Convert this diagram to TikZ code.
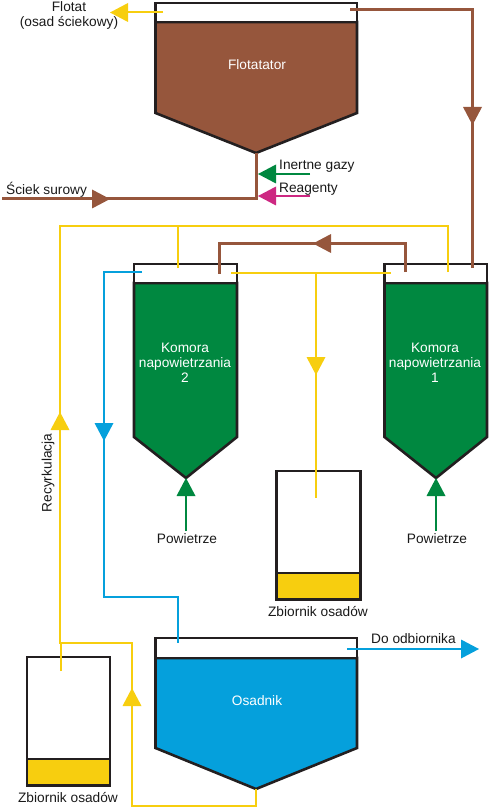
\documentclass[tikz,border=0pt]{standalone}
\usepackage{fontspec}
\setmainfont{Liberation Sans}
\usetikzlibrary{arrows.meta,positioning}
\definecolor{flotbrown}{RGB}{150,86,60}
\definecolor{aergreen}{RGB}{0,136,64}
\definecolor{setblue}{RGB}{5,160,220}
\definecolor{sludge}{RGB}{247,206,15}
\definecolor{reagpink}{RGB}{205,40,130}
\definecolor{tankline}{RGB}{35,31,32}
\begin{document}
\begin{tikzpicture}[
  x=1pt,y=-1pt,
  font=\fontsize{13.7pt}{15.2pt}\selectfont,
  tank/.style={draw=tankline,line width=2.6pt,line join=miter},
  top/.style={tank,fill=white,inner sep=0pt,minimum width=#1},
  lab/.style={inner sep=0pt,align=center,text=black!90},
  inlab/.style={inner sep=0pt,align=center,text=white},
  brownpipe/.style={line width=3pt,draw=flotbrown},
  yellowpipe/.style={line width=2pt,draw=sludge},
  bluepipe/.style={line width=2pt,draw=setblue},
  greenpipe/.style={line width=2pt,draw=aergreen},
  pinkpipe/.style={line width=2pt,draw=reagpink},
  flowtip/.style={-{Triangle[length=18pt,width=19pt,line width=0pt]}},
]
\useasboundingbox (0,0) rectangle (488,810);
% tanks
\filldraw[tank,fill=flotbrown] (155.5,22) -- (357,22) -- (357,113) -- (256,153) -- (155.5,113) -- cycle;
\node[top=201.5pt,minimum height=19pt] (flotTop) at (256.25,12.5) {};
\filldraw[tank,fill=aergreen] (134,283) -- (237,283) -- (237,437) -- (186,478) -- (134,437) -- cycle;
\node[top=103pt,minimum height=19pt] (kom2Top) at (185.5,273.5) {};
\filldraw[tank,fill=aergreen] (384.5,283) -- (487,283) -- (487,437) -- (436,478) -- (384.5,437) -- cycle;
\node[top=102.5pt,minimum height=19pt] (kom1Top) at (435.75,273.5) {};
\filldraw[tank,fill=setblue] (155.5,658) -- (357,658) -- (357,748) -- (256,789) -- (155.5,748) -- cycle;
\node[top=201.5pt,minimum height=20pt] (osTop) at (256.25,648) {};
\filldraw[tank,fill=sludge] (276.5,573) rectangle (360.5,599.5);
\node[top=84pt,minimum height=102pt] (zb1) at (318.5,522) {};
\filldraw[tank,fill=sludge] (27,759) rectangle (110,785.5);
\node[top=83pt,minimum height=102pt] (zb2) at (68.5,708) {};
% names in tanks
\node[inlab] (flotName) at (257,65) {Flotatator};
\node[inlab] (kom2Name) at (185,363) {Komora\\napowietrzania\\2};
\node[inlab] (kom1Name) at (435,363) {Komora\\napowietrzania\\1};
\node[inlab] (osName) at (257,701) {Osadnik};
% free ends of the lines
\coordinate (scIn) at (2,199);
\coordinate (scTip) at (110,199);
\coordinate (scJoin) at (256,199);
\coordinate (flotTip) at (256,153);
\coordinate (flotOutY) at (163,12.5);
\coordinate (flotY) at (110,12.5);
\coordinate (flotOutB) at (350,10);
\coordinate (flotCorner) at (472.5,10);
\coordinate (flotMid) at (472.5,125);
\coordinate (kom1InB) at (472.5,268);
\coordinate (kom1OutB) at (405,272);
\coordinate (retA) at (405,243.5);
\coordinate (retMid) at (313,243.5);
\coordinate (retB) at (219,243.5);
\coordinate (kom2InB) at (219,274);
\coordinate (gasEnd) at (310,174);
\coordinate (gasTip) at (258,174);
\coordinate (reaEnd) at (310,196);
\coordinate (reaTip) at (258,196);
\coordinate (airK2) at (186,531);
\coordinate (airK2Tip) at (186,478);
\coordinate (airK1) at (436,531);
\coordinate (airK1Tip) at (436,478);
\coordinate (wasK2) at (231,273);
\coordinate (wasK1) at (391,273);
\coordinate (wasMid) at (316,273);
\coordinate (wasTip) at (316,375);
\coordinate (wasEnd) at (316,498);
\coordinate (recK1) at (448,272);
\coordinate (recK1Up) at (448,226);
\coordinate (recK2) at (178,268);
\coordinate (recK2Up) at (178,226);
\coordinate (recCorner) at (60,226);
\coordinate (recMid) at (60,412);
\coordinate (recJoin) at (60,643);
\coordinate (recTank) at (61,671);
\coordinate (recTankUp) at (61,643);
\coordinate (recBend) at (132,643);
\coordinate (recTip) at (132,688);
\coordinate (recLow) at (132,806);
\coordinate (recOs) at (256,806);
\coordinate (osTip) at (256,789);
\coordinate (blK2) at (142,272);
\coordinate (blCorner) at (104,272);
\coordinate (blMid) at (104,441);
\coordinate (blLow) at (104,597);
\coordinate (blOs) at (178,597);
\coordinate (blOsIn) at (178,643);
\coordinate (outOs) at (347,649);
\coordinate (outTip) at (479,649);
% brown lines
\draw[brownpipe,flowtip] (scIn) -- (scTip);
\draw[brownpipe] (scIn) -- (scJoin) -- (flotTip);
\draw[brownpipe,flowtip] (flotCorner) -- (flotMid);
\draw[brownpipe] (flotOutB) -- (flotCorner) -- (kom1InB);
\draw[brownpipe,flowtip] (retA) -- (retMid);
\draw[brownpipe] (kom1OutB) -- (retA) -- (retB) -- (kom2InB);
% gas and reagents
\draw[greenpipe,flowtip] (gasEnd) -- (gasTip);
\draw[pinkpipe,flowtip] (reaEnd) -- (reaTip);
% air
\draw[greenpipe,flowtip] (airK2) -- (airK2Tip);
\draw[greenpipe,flowtip] (airK1) -- (airK1Tip);
% yellow lines
\draw[yellowpipe,flowtip] (flotOutY) -- (flotY);
\draw[yellowpipe] (wasK2) -- (wasK1);
\draw[yellowpipe,flowtip] (wasMid) -- (wasTip);
\draw[yellowpipe] (wasMid) -- (wasEnd);
\draw[yellowpipe] (recK1) -- (recK1Up) -- (recCorner) -- (recJoin) -- (recBend) -- (recLow) -- (recOs) -- (osTip);
\draw[yellowpipe] (recK2) -- (recK2Up);
\draw[yellowpipe] (recTank) -- (recTankUp);
\draw[yellowpipe,flowtip] (recJoin) -- (recMid);
\draw[yellowpipe,flowtip] (recLow) -- (recTip);
% blue lines
\draw[bluepipe,flowtip] (blCorner) -- (blMid);
\draw[bluepipe] (blK2) -- (blCorner) -- (blLow) -- (blOs) -- (blOsIn);
\draw[bluepipe,flowtip] (outOs) -- (outTip);
% labels
\node[lab] (flotLab) at (69,15.5) {Flotat\\(osad ściekowy)};
\node[lab,anchor=west] (scLab) at (6,190) {Ściek surowy};
\node[lab,anchor=west] (gasLab) at (279,166) {Inertne gazy};
\node[lab,anchor=west] (reaLab) at (279,189) {Reagenty};
\node[lab] (airLab2) at (187,539) {Powietrze};
\node[lab] (airLab1) at (437,539) {Powietrze};
\node[lab] (zbLab1) at (318,612) {Zbiornik osadów};
\node[lab] (zbLab2) at (68,798) {Zbiornik osadów};
\node[lab,anchor=west] (odLab) at (371,639) {Do odbiornika};
\node[lab,rotate=90] (recLab) at (48,473) {Recyrkulacja};
\end{tikzpicture}
\end{document}
